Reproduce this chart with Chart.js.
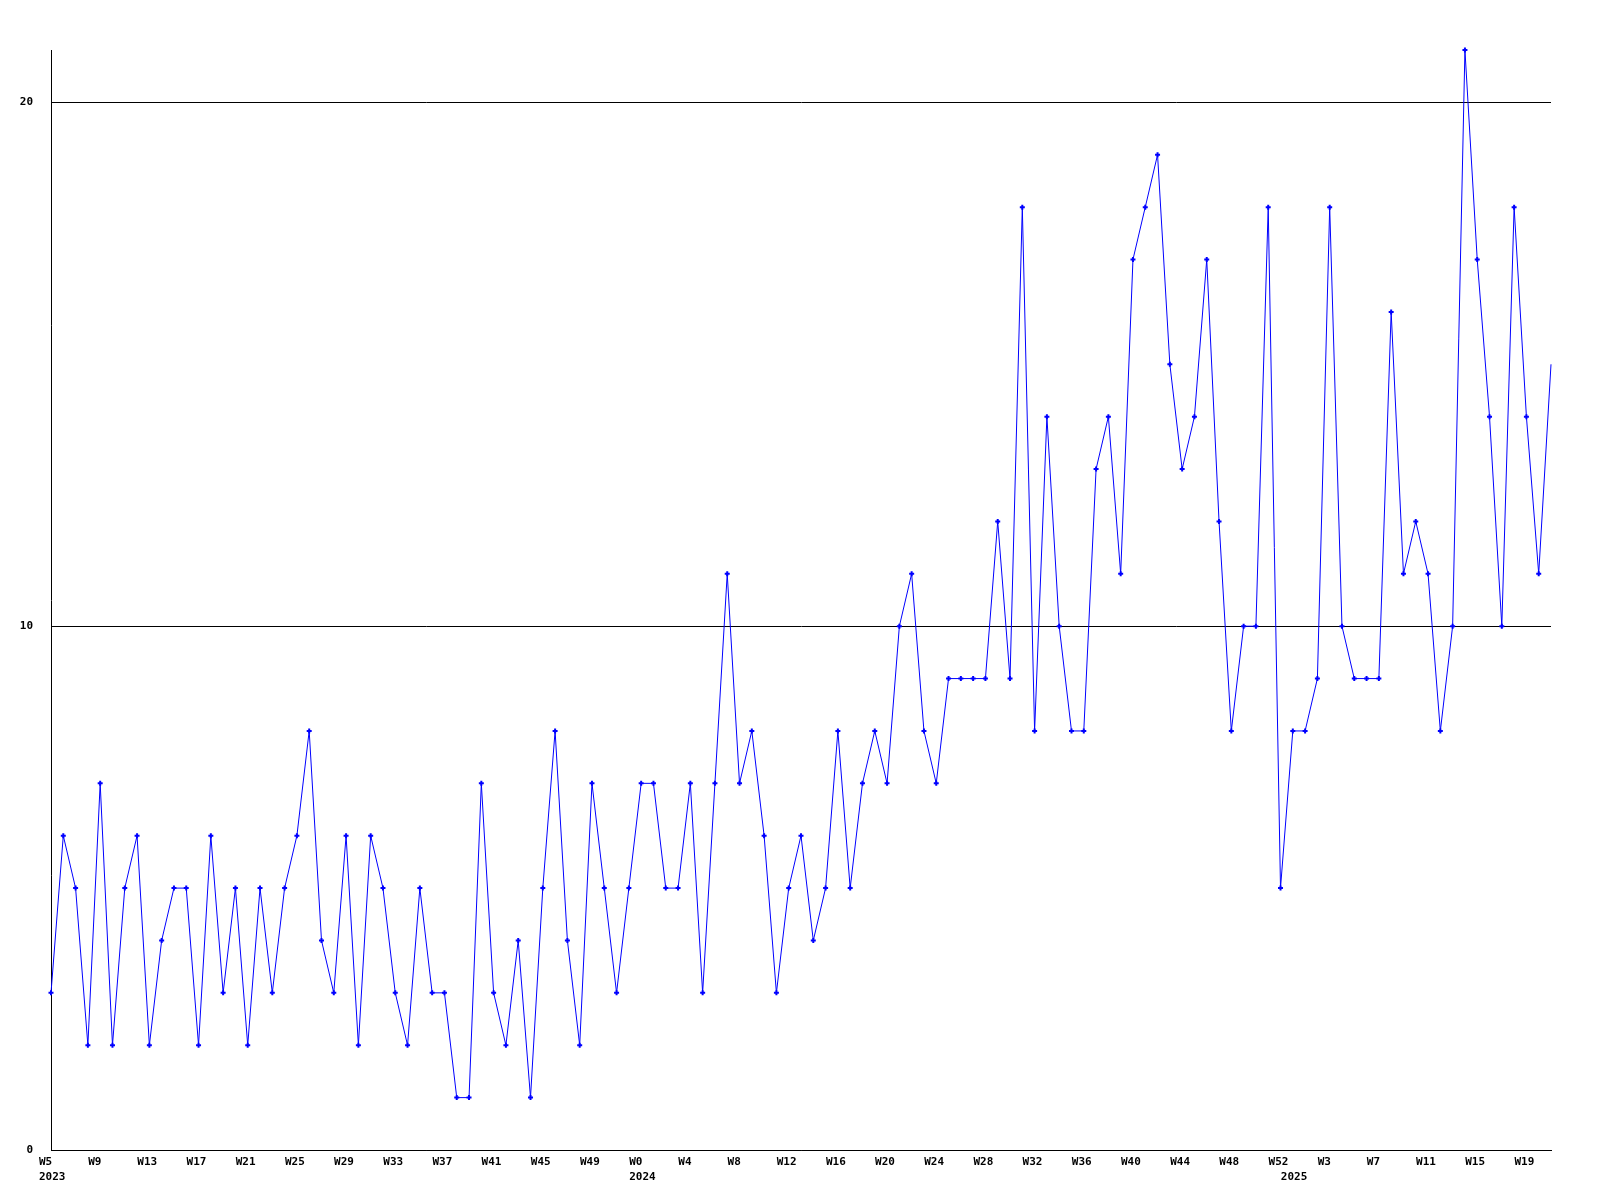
<!DOCTYPE html>
<html>
<head>
<meta charset="utf-8">
<script src="https://cdn.jsdelivr.net/npm/chart.js@4/dist/chart.umd.min.js"></script>
<style>
  html, body { margin: 0; padding: 0; background: #ffffff; }
  #wrap { width: 1600px; height: 1200px; }
</style>
</head>
<body>
<div id="wrap"><canvas id="c" width="1600" height="1200"></canvas></div>
<script>
// ---- data ----
const weeks2023 = ['W5','W6','W7','W8','W9','W10','W11','W12','W13','W14','W15','W16','W17','W18','W19','W20','W21','W22','W23','W24','W25','W26','W27','W28','W29','W30','W31','W32','W33','W34','W35','W36','W37','W38','W39','W40','W41','W42','W43','W44','W45','W46','W47','W48','W49','W50','W51','W52'];
const weeks2024 = ['W0','W1','W2','W3','W4','W5','W6','W7','W8','W9','W10','W11','W12','W13','W14','W15','W16','W17','W18','W19','W20','W21','W22','W23','W24','W25','W26','W27','W28','W29','W30','W31','W32','W33','W34','W35','W36','W37','W38','W39','W40','W41','W42','W43','W44','W45','W46','W47','W48','W49','W50','W51','W52'];
const weeks2025 = ['W0','W1','W2','W3','W4','W5','W6','W7','W8','W9','W10','W11','W12','W13','W14','W15','W16','W17','W18','W19','W20','W21'];
const years = ['2023', '2024', '2025'];

const values2023 = [3,6,5,2,7,2,5,6,2,4, 5,5,2,6,3,5,2,5,3,5, 6,8,4,3,6,2,6,5,3,2, 5,3,3,1,1,7,3,2,4,1, 5,8,4,2,7,5,3,5];
const values2024 = [7,7,5,5,7,3,7,11,7,8, 6,3,5,6,4,5,8,5,7,8, 7,10,11,8,7,9,9,9,9,12, 9,18,8,14,10,8,8,13,14,11, 17,18,19,15,13,14,17,12,8,10, 10,18,5];
const values2025 = [8,8,9,18,10,9,9,9,16,11, 12,11,8,10,21,17,14,10,18,14, 11,15];

const yTickValues = [0, 10, 20];
const yMax = 21;
const labelEvery = 4;

// ---- build table ----
const weekLabels = [].concat(weeks2023, weeks2024, weeks2025);
const yearAt = {};
yearAt[0] = years[0];
yearAt[weeks2023.length] = years[1];
yearAt[weeks2023.length + weeks2024.length] = years[2];
const values = [].concat(values2023, values2024, values2025);
const categories = weekLabels.slice();

const tickFont = { family: 'DejaVu Sans Mono', weight: 'bold', size: 11, lineHeight: '15px' };

new Chart(document.getElementById('c'), {
  type: 'line',
  data: {
    labels: categories,
    datasets: [{
      data: values,
      borderColor: '#0000ff',
      backgroundColor: '#0000ff',
      borderWidth: 1,
      pointStyle: 'cross',
      pointRadius: (ctx) => (ctx.dataIndex === values.length - 1 ? 0 : 2.5),
      pointBorderWidth: 2,
      pointBorderColor: '#0000ff',
      tension: 0,
      fill: false,
      clip: false
    }]
  },
  options: {
    responsive: false,
    animation: false,
    events: [],
    plugins: { legend: { display: false }, tooltip: { enabled: false } },
    layout: { padding: { top: 50, right: 49, left: 0, bottom: 0 } },
    scales: {
      x: {
        type: 'category',
        offset: false,
        grid: { display: false, drawTicks: false },
        border: { display: true, color: '#000000', width: 1 },
        ticks: {
          autoSkip: false,
          maxRotation: 0,
          minRotation: 0,
          align: 'start',
          labelOffset: -12,
          padding: 5,
          color: '#000000',
          font: tickFont,
          callback: function (value, index) {
            const wk = index % labelEvery === 0 ? weekLabels[index] : '';
            if (yearAt[index] !== undefined) return [wk, yearAt[index]];
            return wk;
          }
        },
        afterFit: function (s) { s.height = 50; }
      },
      y: {
        min: 0,
        max: yMax,
        grid: { color: '#000000', lineWidth: 1, drawTicks: false },
        border: { display: true, color: '#000000', width: 1 },
        ticks: { padding: 18, color: '#000000', font: tickFont },
        afterBuildTicks: function (s) { s.ticks = yTickValues.map(v => ({ value: v })); },
        afterFit: function (s) { s.width = 51; }
      }
    }
  }
});
</script>
</body>
</html>
